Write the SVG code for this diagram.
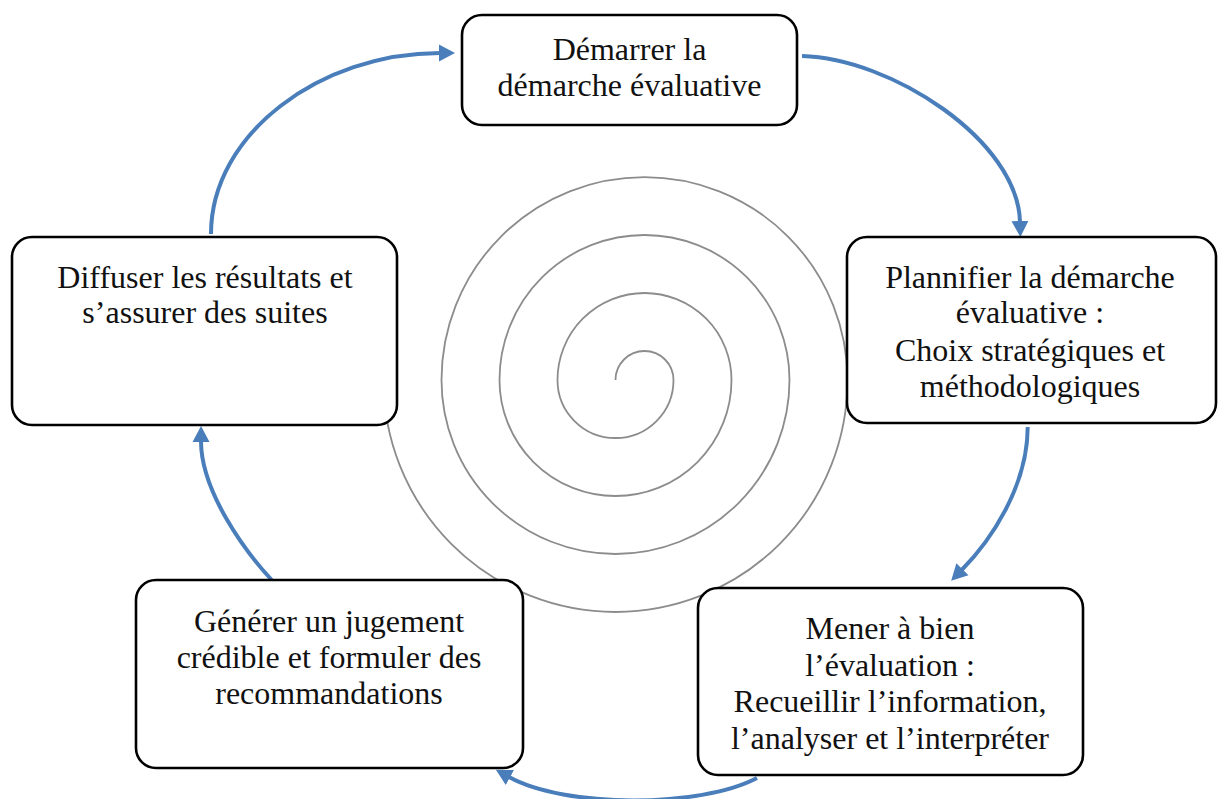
<svg xmlns="http://www.w3.org/2000/svg" width="1218" height="799" viewBox="0 0 1218 799">
  <style>
    .box { fill: #ffffff; stroke: #000000; stroke-width: 2.6; }
    .label { font-family: "Liberation Serif", "Times New Roman", serif; font-size: 32px; fill: #111111; text-anchor: middle; }
    .flow { fill: none; stroke: #4a7ebb; stroke-width: 4; marker-end: url(#head); }
    .spiral { fill: none; stroke: #8c8c8c; stroke-width: 1.8; }
  </style>
  <defs>
    <marker id="head" markerUnits="userSpaceOnUse" markerWidth="20" markerHeight="20" viewBox="0 -10 20 20" refX="1" refY="0" orient="auto">
      <path d="M0,-8.5 L16,0 L0,8.5 Z" fill="#4a7ebb"/>
    </marker>
  </defs>
  <rect width="1218" height="799" fill="#ffffff"/>

  <!-- central spiral: half-circles alternating between two centres -->
  <path class="spiral" d="M615.5,380 A29,29 0 0 1 673.5,380 A58,58 0 0 1 557.5,380 A87,87 0 0 1 731.5,380 A116,116 0 0 1 499.5,380 A145,145 0 0 1 789.5,380 A174,174 0 0 1 441.5,380 A203,203 0 0 1 847.5,380 A232,232 0 0 1 383.5,380"/>

  <!-- connectors -->
  <g id="connectors">
    <path class="flow" d="M211,234 C211,134 320,53 440,53"/>
    <path class="flow" d="M802,56 C890,58 1018,140 1020,222"/>
    <path class="flow" d="M1027.7,427 C1027.7,487 989.7,541.6 961.7,570"/>
    <path class="flow" d="M757,778 C700,808 565,808 509,777"/>
    <path class="flow" d="M271.7,580 C244.5,550.8 201,491 201,441"/>
  </g>

  <g id="node-demarrer">
    <rect class="box" x="462" y="15" width="335" height="110" rx="20"/>
    <text class="label" x="629.5" y="60">Démarrer la</text>
    <text class="label" x="629.5" y="96">démarche évaluative</text>
  </g>

  <g id="node-planifier">
    <rect class="box" x="847" y="237" width="369" height="186" rx="20"/>
    <text class="label" x="1030" y="288">Plannifier la démarche</text>
    <text class="label" x="1030" y="323">évaluative :</text>
    <text class="label" x="1030" y="361">Choix stratégiques et</text>
    <text class="label" x="1030" y="397">méthodologiques</text>
  </g>

  <g id="node-mener">
    <rect class="box" x="698" y="588" width="385" height="187" rx="20"/>
    <text class="label" x="890" y="639">Mener à bien</text>
    <text class="label" x="890" y="676">l’évaluation :</text>
    <text class="label" x="890" y="712">Recueillir l’information,</text>
    <text class="label" x="890" y="749">l’analyser et l’interpréter</text>
  </g>

  <g id="node-generer">
    <rect class="box" x="136" y="580" width="387" height="188" rx="20"/>
    <text class="label" x="329" y="632">Générer un jugement</text>
    <text class="label" x="329" y="668">crédible et formuler des</text>
    <text class="label" x="329" y="704">recommandations</text>
  </g>

  <g id="node-diffuser">
    <rect class="box" x="12" y="237" width="385" height="188" rx="20"/>
    <text class="label" x="205" y="288">Diffuser les résultats et</text>
    <text class="label" x="205" y="323">s’assurer des suites</text>
  </g>
</svg>
